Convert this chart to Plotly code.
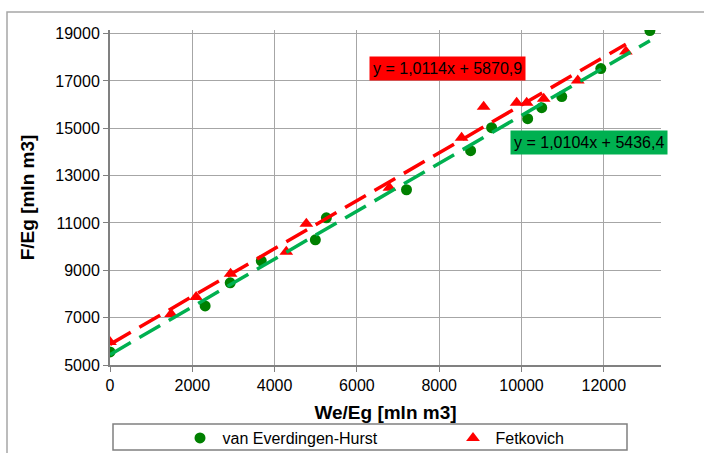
import plotly.graph_objects as go

# Van Everdingen-Hurst aquifer model: We/Eg vs F/Eg [mln m3]
veh_x = [0, 2312, 2921, 3676, 4990, 5258, 7205, 8763, 9274, 10150, 10491, 10978, 11927, 13120]
veh_y = [5550, 7496, 8469, 9399, 10287, 11218, 12402, 14052, 15025, 15406, 15871, 16336, 17520, 19128]

# Fetkovich aquifer model
fet_x = [0, 1485, 2093, 2930, 4284, 4771, 6790, 8544, 9080, 9882, 10126, 10540, 11367, 12536]
fet_y = [5973, 7157, 7876, 8850, 9780, 10964, 12487, 14602, 15913, 16082, 16082, 16251, 17013, 18240]

# Linear trendline coefficients (slope, intercept)
veh_fit = (1.0104, 5436.4)
fet_fit = (1.0114, 5870.9)

x_ticks = [0, 2000, 4000, 6000, 8000, 10000, 12000]
y_ticks = [5000, 7000, 9000, 11000, 13000, 15000, 17000, 19000]

FONT = "Liberation Sans, Arial, sans-serif"
GREEN_PT = "#008000"
GREEN_LN = "#00B050"
RED = "#FF0000"

# plot area in pixels
L, R, T, B = 110, 661, 30, 365
W, H = R - L, B - T


def px_x(p):
    return (p - L) / W


def px_y(p):
    return (B - p) / H


def fit_line(xs, coef):
    x0, x1 = min(xs), max(xs)
    return [x0, x1], [coef[0] * x0 + coef[1], coef[0] * x1 + coef[1]]


fig = go.Figure()

fig.add_trace(go.Scatter(x=veh_x, y=veh_y, mode="markers", name="van Everdingen-Hurst",
                         legend="legend",
                         marker=dict(symbol="circle", size=11, color=GREEN_PT)))
fig.add_trace(go.Scatter(x=fet_x, y=fet_y, mode="markers", name="Fetkovich",
                         legend="legend2",
                         marker=dict(symbol="triangle-up", size=12, color=RED)))

# trendlines drawn over the markers
lx, ly = fit_line(fet_x, fet_fit)
fig.add_trace(go.Scatter(x=lx, y=ly, mode="lines", showlegend=False,
                         line=dict(color=RED, width=3.5, dash="24px,10px")))
lx, ly = fit_line(veh_x, veh_fit)
fig.add_trace(go.Scatter(x=lx, y=ly, mode="lines", showlegend=False,
                         line=dict(color=GREEN_LN, width=3.5, dash="24px,10px")))


def eq_text(coef):
    return "y = {}x + {}".format(f"{coef[0]:.4f}".replace(".", ","),
                                 f"{coef[1]:.1f}".replace(".", ","))


fig.add_annotation(x=8203, y=17521, text=eq_text(fet_fit), showarrow=False,
                   bgcolor=RED, font=dict(size=16, color="black", family=FONT),
                   borderpad=3)
fig.add_annotation(x=11635, y=14391, text=eq_text(veh_fit), showarrow=False,
                   bgcolor=GREEN_LN, font=dict(size=16, color="black", family=FONT),
                   borderpad=3)

# outer chart frame and legend frame
fig.add_shape(type="rect", xref="paper", yref="paper",
              x0=px_x(7), x1=1.2, y0=-0.5, y1=px_y(12),
              line=dict(color="#A6A6A6", width=1.5), fillcolor="rgba(0,0,0,0)", layer="below")
fig.add_shape(type="rect", xref="paper", yref="paper",
              x0=px_x(113), x1=px_x(627), y0=px_y(450), y1=px_y(424),
              line=dict(color="#808080", width=1.5), fillcolor="white", layer="below")

legend_common = dict(orientation="h", y=px_y(421), xanchor="left", yanchor="top",
                     itemwidth=35, bgcolor="rgba(0,0,0,0)", font=dict(size=16, family=FONT))

fig.update_layout(
    width=704, height=453,
    margin=dict(l=L, r=704 - R, t=T, b=453 - B, autoexpand=False),
    paper_bgcolor="white", plot_bgcolor="white",
    font=dict(family=FONT, size=16, color="black"),
    showlegend=True,
    legend=dict(x=px_x(177.5), **legend_common),
    legend2=dict(x=px_x(450.5), **legend_common),
    xaxis=dict(range=[0, 13390], tickvals=x_ticks, tickformat="d", showgrid=True,
               gridcolor="#A6A6A6", gridwidth=1.3, zeroline=False,
               showline=True, linecolor="#808080", linewidth=2,
               ticks="outside", ticklen=5, tickcolor="#808080",
               title=dict(text="<b>We/Eg [mln m3]</b>", standoff=12),
               tickfont=dict(size=16)),
    yaxis=dict(range=[5000, 19150], tickvals=y_ticks, tickformat="d", showgrid=True,
               gridcolor="#A6A6A6", gridwidth=1.3, zeroline=False,
               showline=True, linecolor="#808080", linewidth=2,
               ticks="outside", ticklen=5, tickcolor="#808080",
               title=dict(text="<b>F/Eg [mln m3]</b>", standoff=16),
               tickfont=dict(size=16)),
)

fig.write_html("out.html")
